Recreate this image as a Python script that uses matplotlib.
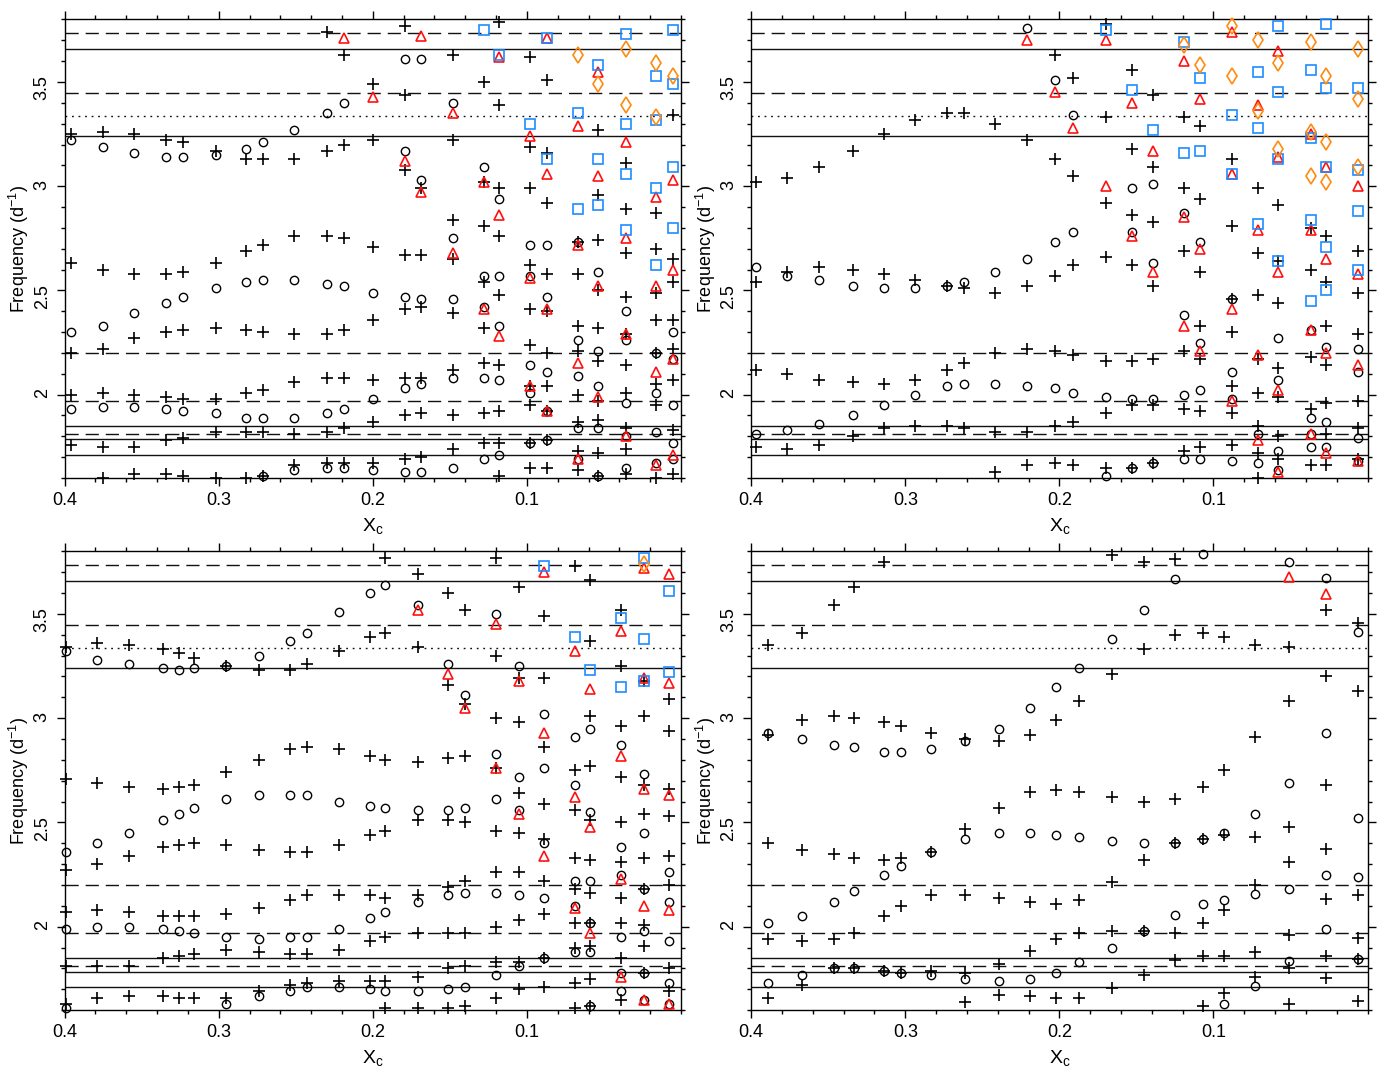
import matplotlib.pyplot as plt
from matplotlib.ticker import MultipleLocator, FixedLocator, FormatStrFormatter

plt.rcParams['font.family'] = ['Liberation Sans', 'DejaVu Sans']
plt.rcParams['mathtext.fontset'] = 'custom'
plt.rcParams['mathtext.rm'] = 'Liberation Sans'
plt.rcParams['mathtext.it'] = 'Liberation Sans:italic'

# horizontal reference frequencies
solid_lines = [3.657, 3.239, 1.850, 1.785, 1.709]
dashed_lines = [3.736, 3.446, 2.201, 1.971, 1.812]
dotted_lines = [3.338]

# ---- panel 1 (top left) ----
p1_circle = {
    0.396: [3.22, 2.30, 1.93], 0.375: [3.19, 2.33, 1.94], 0.355: [3.16, 2.39, 1.94],
    0.334: [3.14, 2.44, 1.93], 0.323: [3.14, 2.47, 1.92], 0.302: [3.15, 2.51, 1.91],
    0.282: [3.18, 2.54, 1.89], 0.271: [3.21, 2.55, 1.89, 1.61], 0.251: [3.27, 2.55, 1.89, 1.64],
    0.230: [3.35, 2.53, 1.91, 1.65], 0.219: [3.40, 2.52, 1.93, 1.65], 0.200: [2.49, 1.98, 1.64],
    0.179: [3.61, 3.17, 2.47, 2.03, 1.63], 0.169: [3.61, 3.03, 2.46, 2.05, 1.63],
    0.148: [3.40, 2.75, 2.46, 2.08, 1.65], 0.128: [3.09, 2.57, 2.42, 2.08, 1.69],
    0.118: [2.94, 2.57, 2.33, 2.07, 1.71], 0.098: [2.72, 2.57, 2.14, 2.01, 1.77],
    0.087: [2.72, 2.47, 2.11, 1.92, 1.78], 0.067: [2.73, 2.26, 2.09, 1.84, 1.69],
    0.054: [2.59, 2.21, 2.04, 1.84, 1.61], 0.036: [2.40, 2.26, 1.96, 1.80, 1.65],
    0.016: [2.20, 2.01, 1.82, 1.67], 0.005: [2.30, 2.17, 1.95, 1.77, 1.69],
}
p1_plus = {
    0.396: [3.25, 2.63, 2.20, 2.00, 1.76], 0.375: [3.26, 2.60, 2.22, 2.01, 1.75, 1.60],
    0.355: [3.25, 2.58, 2.27, 2.00, 1.75, 1.62], 0.334: [3.22, 2.58, 2.30, 1.99, 1.78, 1.62],
    0.323: [3.21, 2.59, 2.31, 1.98, 1.79, 1.61], 0.302: [3.17, 2.63, 2.32, 1.98, 1.82, 1.60],
    0.282: [3.13, 2.69, 2.31, 2.01, 1.82, 1.60], 0.271: [3.13, 2.72, 2.30, 2.02, 1.82, 1.61],
    0.251: [3.13, 2.76, 2.29, 2.06, 1.81, 1.66], 0.230: [3.74, 3.17, 2.76, 2.29, 2.08, 1.82, 1.67],
    0.219: [3.63, 3.20, 2.75, 2.31, 2.08, 1.84, 1.67], 0.200: [3.49, 3.22, 2.71, 2.36, 2.07, 1.87, 1.67],
    0.179: [3.77, 3.44, 3.08, 2.67, 2.41, 2.08, 1.90, 1.69], 0.169: [2.99, 2.67, 2.42, 2.08, 1.91, 1.70],
    0.148: [3.63, 3.22, 2.84, 2.65, 2.39, 2.12, 1.90, 1.74],
    0.128: [3.50, 3.02, 2.81, 2.54, 2.32, 2.15, 1.91, 1.77],
    0.118: [3.79, 3.39, 2.99, 2.76, 2.48, 2.14, 1.92, 1.77, 1.61],
    0.098: [3.62, 3.19, 2.99, 2.62, 2.41, 2.24, 2.04, 1.95, 1.77, 1.65],
    0.087: [3.51, 3.16, 2.92, 2.58, 2.40, 2.20, 2.04, 1.92, 1.78, 1.65],
    0.067: [2.73, 2.58, 2.33, 2.21, 2.00, 1.87, 1.73, 1.64],
    0.054: [3.27, 2.96, 2.74, 2.50, 2.32, 2.16, 1.97, 1.88, 1.72, 1.61],
    0.036: [3.11, 2.89, 2.68, 2.47, 2.29, 2.14, 2.01, 1.84, 1.74, 1.62],
    0.016: [2.87, 2.70, 2.49, 2.36, 2.20, 2.05, 1.95, 1.60],
    0.005: [3.34, 2.65, 2.54, 2.36, 2.22, 2.07, 1.83, 1.62],
}
p1_tri = {
    0.219: [3.71], 0.200: [3.43], 0.179: [3.12], 0.169: [3.72, 2.97], 0.148: [3.35, 2.68],
    0.128: [3.02, 2.41], 0.118: [3.62, 2.86, 2.28], 0.098: [3.24, 2.56, 2.04],
    0.087: [3.71, 3.06, 2.41, 1.92], 0.067: [3.29, 2.72, 2.15, 1.69],
    0.054: [3.55, 3.05, 2.52, 1.99], 0.036: [3.21, 2.75, 2.29, 1.80],
    0.016: [2.95, 2.52, 2.11, 1.66], 0.005: [3.03, 2.60, 2.17, 1.71],
}
p1_square = {
    0.128: [3.75], 0.118: [3.63], 0.098: [3.30], 0.087: [3.71, 3.13], 0.067: [3.35, 2.89],
    0.054: [3.58, 3.13, 2.91], 0.036: [3.73, 3.30, 3.06, 2.79],
    0.016: [3.53, 3.32, 2.99, 2.62], 0.005: [3.75, 3.49, 3.09, 2.80],
}
p1_diamond = {0.067: [3.63], 0.054: [3.49], 0.036: [3.66, 3.39], 0.016: [3.59, 3.33], 0.005: [3.53]}

# ---- panel 2 (top right) ----
p2_circle = {
    0.397: [2.61, 1.81], 0.377: [2.57, 1.83], 0.356: [2.55, 1.86], 0.334: [2.52, 1.90],
    0.314: [2.51, 1.95], 0.294: [2.51, 2.00], 0.273: [2.52, 2.04], 0.262: [2.54, 2.05],
    0.242: [2.59, 2.05], 0.221: [3.76, 2.65, 2.04], 0.203: [3.51, 2.73, 2.03],
    0.191: [3.34, 2.78, 2.01], 0.170: [1.99, 1.61], 0.153: [2.99, 2.78, 1.98, 1.65],
    0.139: [3.01, 2.63, 1.98, 1.67], 0.119: [2.87, 2.38, 2.00, 1.69],
    0.109: [2.73, 2.25, 2.02, 1.69], 0.088: [2.46, 2.11, 1.98, 1.68], 0.071: [1.81, 1.67],
    0.058: [2.27, 2.07, 1.73, 1.64], 0.037: [2.31, 1.89, 1.81, 1.75],
    0.027: [2.23, 1.87, 1.75], 0.006: [2.22, 2.11, 1.79, 1.68],
}
p2_plus = {
    0.397: [3.02, 2.54, 2.12, 1.75], 0.377: [3.04, 2.59, 2.10, 1.74], 0.356: [3.09, 2.61, 2.07, 1.76],
    0.334: [3.17, 2.60, 2.06, 1.80], 0.314: [3.25, 2.58, 2.05, 1.84], 0.294: [3.32, 2.55, 2.07, 1.85],
    0.273: [3.35, 2.52, 2.12, 1.85], 0.262: [3.35, 2.51, 2.15, 1.84],
    0.242: [3.30, 2.49, 2.20, 1.82, 1.63], 0.221: [3.22, 2.52, 2.22, 1.82, 1.66],
    0.203: [3.63, 3.13, 2.57, 2.21, 1.85, 1.67], 0.191: [3.52, 3.05, 2.62, 2.19, 1.87, 1.66],
    0.170: [3.78, 3.33, 2.92, 2.66, 2.16, 1.91, 1.65], 0.153: [3.56, 3.18, 2.86, 2.62, 2.16, 1.95, 1.65],
    0.139: [3.44, 3.09, 2.83, 2.52, 2.17, 1.95, 1.67], 0.119: [3.33, 2.99, 2.69, 2.21, 1.93, 1.73],
    0.109: [3.29, 2.94, 2.59, 2.33, 2.17, 1.92, 1.75], 0.088: [3.13, 2.81, 2.46, 2.30, 2.04, 1.91, 1.76],
    0.071: [2.99, 2.68, 2.48, 2.17, 2.01, 1.85, 1.72, 1.60],
    0.058: [2.91, 2.64, 2.44, 2.13, 1.99, 1.80, 1.69], 0.037: [2.80, 2.60, 2.18, 1.93, 1.66],
    0.027: [2.76, 2.54, 2.33, 2.14, 1.96, 1.81, 1.66], 0.006: [2.69, 2.49, 2.29, 1.97, 1.84, 1.69],
}
p2_tri = {
    0.221: [3.70], 0.203: [3.45], 0.191: [3.28], 0.170: [3.70, 3.00], 0.153: [3.40, 2.76],
    0.139: [3.17, 2.59], 0.119: [3.60, 2.85, 2.33], 0.109: [3.42, 2.70, 2.21],
    0.088: [3.74, 3.06, 2.41, 1.97], 0.071: [3.39, 2.79, 2.19, 1.78],
    0.058: [3.65, 3.14, 2.59, 2.02, 1.63], 0.037: [3.25, 2.79, 2.31, 1.81],
    0.027: [3.09, 2.65, 2.20, 1.72], 0.006: [3.00, 2.58, 2.14, 1.68],
}
p2_square = {
    0.170: [3.75], 0.153: [3.46], 0.139: [3.27], 0.119: [3.69, 3.16], 0.109: [3.52, 3.17],
    0.088: [3.34, 3.06], 0.071: [3.55, 3.28, 2.82], 0.058: [3.77, 3.45, 3.13, 2.64],
    0.037: [3.56, 3.23, 2.84, 2.45], 0.027: [3.78, 3.47, 3.09, 2.71, 2.50],
    0.006: [3.47, 3.08, 2.88, 2.60],
}
p2_diamond = {
    0.119: [3.68], 0.109: [3.58], 0.088: [3.77, 3.53], 0.071: [3.70, 3.36], 0.058: [3.59, 3.18],
    0.037: [3.69, 3.26, 3.05], 0.027: [3.53, 3.21, 3.02], 0.006: [3.66, 3.42, 3.09],
}

# ---- panel 3 (bottom left) ----
p3_circle = {
    0.399: [3.32, 2.36, 1.99, 1.61], 0.379: [3.28, 2.40, 2.00], 0.358: [3.26, 2.45, 2.00],
    0.336: [3.24, 2.51, 1.99], 0.326: [3.23, 2.54, 1.98], 0.316: [3.24, 2.57, 1.97],
    0.295: [3.25, 2.61, 1.95, 1.63], 0.274: [3.30, 2.63, 1.94, 1.67], 0.254: [3.37, 2.63, 1.95, 1.69],
    0.243: [3.41, 2.63, 1.95, 1.71], 0.222: [3.51, 2.60, 1.99, 1.71], 0.202: [3.60, 2.58, 2.04, 1.70],
    0.192: [3.64, 2.57, 2.07, 1.69], 0.171: [3.54, 2.56, 2.12, 1.69], 0.151: [3.26, 2.56, 2.15, 1.70],
    0.140: [3.11, 2.57, 2.16, 1.71], 0.120: [3.50, 2.83, 2.61, 2.16, 1.77],
    0.105: [3.25, 2.72, 2.56, 2.15, 1.81], 0.089: [3.02, 2.76, 2.40, 2.14, 1.85],
    0.069: [2.91, 2.68, 2.22, 2.10, 1.88], 0.059: [2.95, 2.55, 2.22, 2.02, 1.88, 1.62],
    0.039: [2.87, 2.38, 2.25, 1.95, 1.78, 1.69], 0.024: [2.73, 2.45, 2.18, 1.98, 1.78, 1.65],
    0.008: [2.26, 2.12, 1.93, 1.73, 1.63],
}
p3_plus = {
    0.399: [3.34, 2.71, 2.27, 2.07, 1.81, 1.63], 0.379: [3.36, 2.69, 2.30, 2.08, 1.81, 1.66],
    0.358: [3.35, 2.67, 2.34, 2.07, 1.81, 1.67], 0.336: [3.33, 2.66, 2.38, 2.05, 1.85, 1.67],
    0.326: [3.31, 2.67, 2.39, 2.05, 1.86, 1.66], 0.316: [3.29, 2.68, 2.40, 2.05, 1.87, 1.66],
    0.295: [3.25, 2.74, 2.39, 2.06, 1.89, 1.66], 0.274: [3.23, 2.80, 2.37, 2.09, 1.88, 1.69],
    0.254: [3.23, 2.85, 2.36, 2.13, 1.87, 1.72], 0.243: [3.26, 2.86, 2.36, 2.15, 1.87, 1.73],
    0.222: [3.32, 2.85, 2.39, 2.15, 1.89, 1.74], 0.202: [3.39, 2.82, 2.44, 2.15, 1.93, 1.74],
    0.192: [3.77, 3.41, 2.80, 2.46, 2.14, 1.95, 1.74, 1.61],
    0.171: [3.69, 3.34, 2.79, 2.51, 2.15, 1.97, 1.76, 1.61],
    0.151: [3.60, 3.16, 2.81, 2.51, 2.19, 1.97, 1.80, 1.61],
    0.140: [3.52, 3.07, 2.82, 2.50, 2.22, 1.97, 1.81, 1.62],
    0.120: [3.77, 3.30, 3.00, 2.76, 2.46, 2.26, 2.00, 1.83, 1.66],
    0.105: [3.63, 3.19, 2.98, 2.64, 2.45, 2.26, 2.03, 1.83, 1.70],
    0.089: [3.49, 3.19, 2.86, 2.59, 2.42, 2.22, 2.06, 1.85, 1.71],
    0.069: [3.73, 2.75, 2.56, 2.33, 2.18, 2.02, 1.90, 1.73, 1.61],
    0.059: [3.66, 3.37, 3.01, 2.77, 2.51, 2.32, 2.16, 2.02, 1.91, 1.75, 1.62],
    0.039: [3.52, 3.25, 2.96, 2.72, 2.50, 2.31, 2.14, 2.02, 1.85, 1.65],
    0.024: [3.18, 3.01, 2.68, 2.54, 2.33, 2.18, 2.01, 1.91, 1.78],
    0.008: [3.09, 2.94, 2.66, 2.53, 2.34, 2.20, 1.80, 1.69],
}
p3_tri = {
    0.171: [3.52], 0.151: [3.21], 0.140: [3.05], 0.120: [3.45, 2.76], 0.105: [3.18, 2.54],
    0.089: [3.70, 2.93, 2.34], 0.069: [3.32, 2.62, 2.09], 0.059: [3.14, 2.48, 1.97],
    0.039: [3.42, 2.82, 2.23, 1.76], 0.024: [3.72, 3.19, 2.66, 2.10, 1.65],
    0.008: [3.69, 3.17, 2.63, 2.08, 1.63],
}
p3_square = {0.089: [3.73], 0.069: [3.39], 0.059: [3.23], 0.039: [3.48, 3.15],
             0.024: [3.77, 3.38, 3.18], 0.008: [3.61, 3.22]}
p3_diamond = {0.024: [3.74]}

# ---- panel 4 (bottom right) ----
p4_circle = {
    0.389: [2.93, 2.02, 1.73], 0.367: [2.90, 2.05, 1.77], 0.346: [2.87, 2.12, 1.80],
    0.333: [2.86, 2.17, 1.80], 0.314: [2.84, 2.25, 1.79], 0.303: [2.84, 2.29, 1.78],
    0.283: [2.85, 2.36, 1.77], 0.261: [2.89, 2.42, 1.75], 0.239: [2.95, 2.45, 1.74],
    0.219: [3.05, 2.45, 1.75], 0.202: [3.15, 2.44, 1.78], 0.187: [3.24, 2.43, 1.83],
    0.166: [3.38, 2.41, 1.90], 0.145: [3.52, 2.40, 1.98], 0.125: [3.665, 2.40, 2.055],
    0.107: [3.785, 2.42, 2.11], 0.093: [2.45, 2.13, 1.63], 0.073: [2.54, 2.155, 1.715],
    0.051: [3.75, 2.69, 2.18, 1.835], 0.027: [3.67, 2.93, 2.25, 1.99],
    0.006: [3.415, 2.52, 2.24, 1.845],
}
p4_plus = {
    0.389: [3.35, 2.92, 2.40, 1.94, 1.66], 0.367: [3.41, 2.99, 2.37, 1.93, 1.72],
    0.346: [3.54, 3.01, 2.35, 1.94, 1.80], 0.333: [3.63, 3.00, 2.33, 1.97, 1.80],
    0.314: [3.75, 2.98, 2.32, 2.05, 1.79], 0.303: [2.96, 2.33, 2.10, 1.78],
    0.283: [2.93, 2.36, 2.15, 1.79], 0.261: [2.90, 2.47, 2.15, 1.78, 1.64],
    0.239: [2.89, 2.57, 2.14, 1.82, 1.675], 0.219: [2.92, 2.645, 2.12, 1.885, 1.67],
    0.202: [2.99, 2.655, 2.11, 1.94, 1.66], 0.187: [3.08, 2.645, 2.13, 1.97, 1.66],
    0.166: [3.78, 3.21, 2.62, 2.215, 1.98, 1.705], 0.145: [3.75, 3.33, 2.60, 2.32, 1.98, 1.77],
    0.125: [3.765, 3.40, 2.61, 2.40, 1.97, 1.84], 0.107: [3.41, 2.67, 2.42, 2.02, 1.86, 1.62],
    0.093: [3.39, 2.75, 2.44, 2.08, 1.86, 1.68], 0.073: [3.35, 2.91, 2.43, 2.20, 1.88, 1.76],
    0.051: [3.34, 3.08, 2.48, 2.31, 1.96, 1.80, 1.63],
    0.027: [3.52, 3.20, 2.68, 2.375, 2.135, 1.86, 1.755],
    0.006: [3.455, 3.13, 2.15, 1.945, 1.845, 1.645],
}
p4_tri = {0.051: [3.675], 0.027: [3.595]}
p4_square = {}
p4_diamond = {}

panels = [
    (p1_circle, p1_plus, p1_tri, p1_square, p1_diamond),
    (p2_circle, p2_plus, p2_tri, p2_square, p2_diamond),
    (p3_circle, p3_plus, p3_tri, p3_square, p3_diamond),
    (p4_circle, p4_plus, p4_tri, p4_square, p4_diamond),
]


def flat(d):
    xs = [x for x, ys in d.items() for _ in ys]
    ys = [y for v in d.values() for y in v]
    return xs, ys


def draw_panel(ax, circle, plus, tri, square, diamond):
    for y in solid_lines:
        ax.axhline(y, color='#111111', lw=1.0, zorder=1)
    for y in dashed_lines:
        ax.axhline(y, color='#111111', lw=1.0, dashes=(9.5, 5), zorder=1)
    for y in dotted_lines:
        ax.axhline(y, color='#111111', lw=1.0, dashes=(1.3, 3.4), zorder=1)

    ax.plot(*flat(circle), ls='none', marker='o', ms=6, mfc='none', mec='k', mew=1.0, clip_on=False, zorder=3)
    ax.plot(*flat(plus), ls='none', marker='+', ms=8, mec='k', mew=1.2, clip_on=False, zorder=3)
    if tri:
        ax.plot(*flat(tri), ls='none', marker='^', ms=7.8, mfc='none', mec='#ff1010', mew=1.2, clip_on=False, zorder=4)
    if square:
        ax.plot(*flat(square), ls='none', marker='s', ms=7, mfc='none', mec='#1e8cff', mew=1.2, clip_on=False, zorder=5)
    if diamond:
        ax.plot(*flat(diamond), ls='none', marker='d', ms=8.5, mfc='none', mec='#ff8a10', mew=1.2, clip_on=False, zorder=6)

    ax.set_xlim(0.4, 0.0)
    ax.set_ylim(1.6, 3.8)
    ax.xaxis.set_major_locator(FixedLocator([0.4, 0.3, 0.2, 0.1]))
    ax.xaxis.set_minor_locator(MultipleLocator(0.02))
    ax.yaxis.set_major_locator(MultipleLocator(0.5))
    ax.yaxis.set_minor_locator(MultipleLocator(0.1))
    ax.yaxis.set_major_formatter(FormatStrFormatter('%g'))
    ax.tick_params(which='both', direction='out', top=True, right=True, width=1.0)
    ax.tick_params(which='major', length=6, labelsize=13, pad=4)
    ax.tick_params(which='minor', length=3)
    ax.tick_params(axis='y', labelrotation=90)
    for s in ax.spines.values():
        s.set_linewidth(1.0)
    ax.set_xlabel(r'$\mathrm{X_c}$', fontsize=14, labelpad=5)
    ax.set_ylabel(r'Frequency (d$^{-1}$)', fontsize=13, labelpad=2)


fig = plt.figure(figsize=(13.85, 10.71), dpi=100)
boxes = [
    [0.0467, 0.5537, 0.4450, 0.4281],
    [0.5424, 0.5537, 0.4450, 0.4281],
    [0.0467, 0.0568, 0.4450, 0.4285],
    [0.5424, 0.0568, 0.4450, 0.4285],
]
for box, data in zip(boxes, panels):
    ax = fig.add_axes(box)
    draw_panel(ax, *data)

fig.savefig('out.png', dpi=100)
